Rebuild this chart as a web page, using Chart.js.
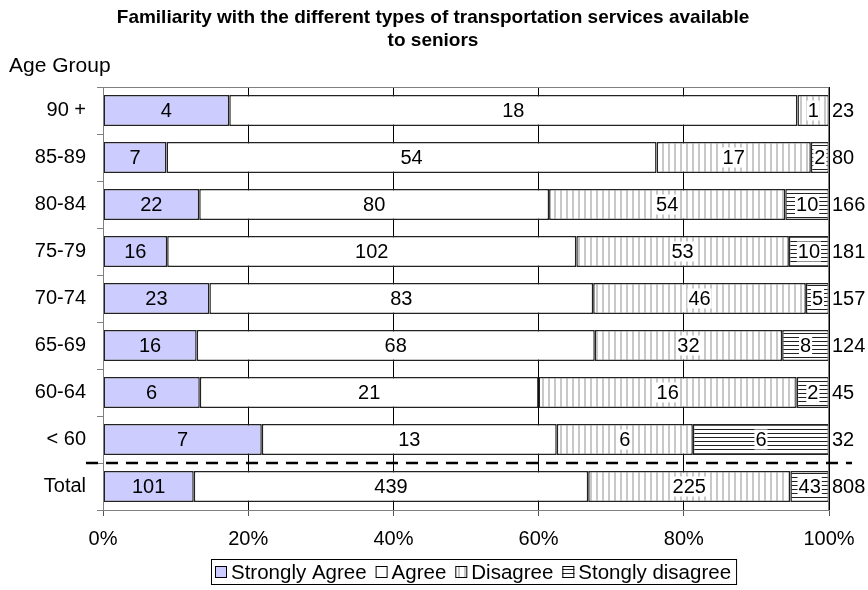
<!DOCTYPE html>
<html>
<head>
<meta charset="utf-8">
<script src="https://cdn.jsdelivr.net/npm/chart.js@4/dist/chart.umd.min.js"></script>
<style>
  html, body { margin: 0; padding: 0; background: #fff; }
  #wrap { width: 868px; height: 590px; position: relative; }
</style>
</head>
<body>
<div id="wrap"><canvas id="c"></canvas></div>
<script>
// familiarity with transport services, counts per age group
const groups        = ['90 +', '85-89', '80-84', '75-79', '70-74', '65-69', '60-64', '< 60', 'Total'];
const stronglyAgree = [4, 7, 22, 16, 23, 16, 6, 7, 101];
const agree         = [18, 54, 80, 102, 83, 68, 21, 13, 439];
const disagree      = [1, 17, 54, 53, 46, 32, 16, 6, 225];
const strongDisag   = [0, 2, 10, 10, 5, 8, 2, 6, 43];
const seriesNames   = ['Strongly Agree', 'Agree', 'Disagree', 'Stongly disagree'];
const xTicks        = [0, 20, 40, 60, 80, 100];

const FONT = "'Liberation Sans', Arial, sans-serif";
const counts = [stronglyAgree, agree, disagree, strongDisag];
const totals = groups.map((_, i) => counts.reduce((s, a) => s + a[i], 0));
const pct = arr => arr.map((v, i) => v / totals[i] * 100);

// ── fill patterns ───────────────────────────────────────────────
function tile(w, h, draw) {
  const c = document.createElement('canvas');
  c.width = w; c.height = h;
  const g = c.getContext('2d');
  g.fillStyle = '#fff'; g.fillRect(0, 0, w, h);
  draw(g);
  return g.createPattern(c, 'repeat');
}
const vLines = tile(6, 6, g => { g.fillStyle = '#c8c8c8'; g.fillRect(2, 0, 2, 6); });
const hLines = tile(4, 4, g => { g.fillStyle = '#222'; g.fillRect(0, 1, 4, 1); });

const fills = ['#CCCCFF', '#FFFFFF', vLines, hLines];
const boxedLabels = [false, false, true, true];

// ── plugin: segment labels, totals, dashed separator, headings, legend ──
const decor = {
  id: 'decor',
  afterDatasetsDraw(chart) {
    const { ctx, chartArea: a, scales: { y } } = chart;
    ctx.save();
    ctx.font = '20px ' + FONT;
    ctx.textBaseline = 'middle';

    // values inside the segments
    chart.data.datasets.forEach((ds, di) => {
      const meta = chart.getDatasetMeta(di);
      meta.data.forEach((bar, i) => {
        const v = counts[di][i];
        if (!v) return;
        const cx = (bar.x + bar.base) / 2;
        const txt = String(v);
        const w = ctx.measureText(txt).width;
        if (boxedLabels[di]) {
          ctx.fillStyle = '#fff';
          ctx.fillRect(cx - w / 2 - 1, bar.y - 10, w + 2, 20);
        }
        ctx.fillStyle = '#000';
        ctx.textAlign = 'center';
        ctx.fillText(txt, cx, bar.y + 1);
      });
    });

    // row totals right of the plot
    ctx.textAlign = 'left';
    totals.forEach((t, i) => {
      ctx.fillText(String(t), a.right + 3, y.getPixelForValue(i) + 1);
    });

    // plot frame
    ctx.strokeStyle = '#808080';
    ctx.lineWidth = 1;
    ctx.strokeRect(a.left + 0.5, a.top + 0.5, a.right - a.left - 1, a.bottom - a.top);

    // dashed line between "< 60" and "Total"
    const yd = (y.getPixelForValue(groups.length - 2) + y.getPixelForValue(groups.length - 1)) / 2;
    ctx.strokeStyle = '#000';
    ctx.lineWidth = 2.5;
    ctx.setLineDash([12, 8]);
    ctx.beginPath();
    ctx.moveTo(86, yd);
    ctx.lineTo(852, yd);
    ctx.stroke();
    ctx.setLineDash([]);

    // title + axis heading
    ctx.fillStyle = '#000';
    ctx.textAlign = 'center';
    ctx.font = 'bold 19px ' + FONT;
    ctx.fillText('Familiarity with the different types of transportation services available', 433, 18);
    ctx.fillText('to seniors', 433, 41);
    ctx.textAlign = 'left';
    ctx.font = '21px ' + FONT;
    ctx.fillText('Age Group', 9, 66);

    // legend
    ctx.font = '20.5px ' + FONT;
    const lx0 = 211;
    let x = lx0 + 4;
    const ly = 572;
    seriesNames.forEach((name, i) => {
      ctx.fillStyle = fills[i];
      ctx.fillRect(x, ly - 6, 12, 12);
      ctx.strokeStyle = '#000';
      ctx.lineWidth = 1;
      ctx.strokeRect(x + 0.5, ly - 5.5, 11, 11);
      ctx.fillStyle = '#000';
      ctx.fillText(name, x + 16, ly + 1);
      x += 16 + ctx.measureText(name).width + 9;
    });
    ctx.strokeStyle = '#000';
    ctx.strokeRect(lx0 + 0.5, 559.5, x - 9 + 5 - lx0, 25);
    ctx.restore();
  }
};

new Chart(document.getElementById('c'), {
  type: 'bar',
  data: {
    labels: groups,
    datasets: counts.map((arr, i) => ({
      label: seriesNames[i],
      data: pct(arr),
      backgroundColor: fills[i],
      borderColor: '#222',
      borderWidth: 1.5,
      borderSkipped: false,
      barPercentage: 0.66,
      categoryPercentage: 1,
    })),
  },
  options: {
    indexAxis: 'y',
    responsive: true,
    maintainAspectRatio: false,
    animation: false,
    layout: { padding: { top: 87, right: 39, bottom: 40, left: 0 } },
    plugins: { legend: { display: false }, title: { display: false }, tooltip: { enabled: false } },
    scales: {
      x: {
        stacked: true, min: 0, max: 100,
        afterBuildTicks: s => { s.ticks = xTicks.map(v => ({ value: v })); },
        afterFit: s => { s.height = 40; },
        grid: { color: '#000', tickLength: 6, tickColor: '#555' },
        border: { color: '#808080' },
        ticks: { color: '#000', font: { family: FONT, size: 20 }, padding: 11, callback: v => v + '%' },
      },
      y: {
        stacked: true,
        afterFit: s => { s.width = 103; },
        grid: { drawOnChartArea: false, tickLength: 6, color: '#808080' },
        border: { color: '#808080' },
        ticks: { color: '#000', font: { family: FONT, size: 20 }, padding: 11 },
      },
    },
  },
  plugins: [decor],
});
</script>
</body>
</html>
